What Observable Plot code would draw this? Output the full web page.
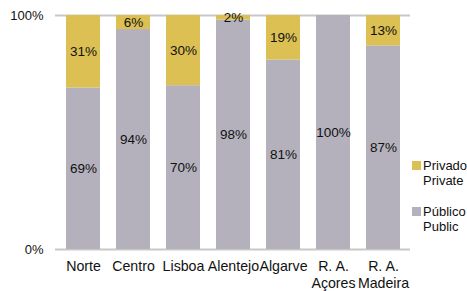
<!DOCTYPE html>
<html><head><meta charset="utf-8">
<script src="https://cdn.jsdelivr.net/npm/d3@7"></script>
<script src="https://cdn.jsdelivr.net/npm/@observablehq/plot@0.6"></script>
<style>
body{margin:0;background:#fff;font-family:"Liberation Sans",Arial,sans-serif;}
#wrap{position:relative;width:467px;height:291px;}
.leg{position:absolute;left:412px;font-size:13px;line-height:15px;color:#111;}
.sw{position:absolute;left:0;width:9px;height:9px;}
.lt{position:absolute;left:11px;white-space:nowrap;}
</style></head>
<body><div id="wrap"></div>
<script>
const categories = ["Norte","Centro","Lisboa","Alentejo","Algarve","R. A.\nAçores","R. A.\nMadeira"];
const publico = [69,94,70,98,81,100,87];
const privado = [31,6,30,2,19,0,13];
const series = ["Privado","Público"];
const seriesEn = ["Private","Public"];
const colors = ["#dcc054","#b4b1bc"];

const data = categories.flatMap((c,i)=>[
  {region:c,type:"Público",v:publico[i]},
  {region:c,type:"Privado",v:privado[i]}
]);

const chart = Plot.plot({
  width:467, height:291,
  marginLeft:55, marginRight:57, marginTop:15, marginBottom:42,
  style:{fontFamily:"'Liberation Sans', Arial, sans-serif", fontSize:"13px", color:"#111", background:"#fff"},
  x:{domain:categories, paddingInner:0.33, paddingOuter:0.168},
  y:{domain:[0,100]},
  color:{domain:series, range:colors},
  marks:[
    Plot.ruleY([0,100],{stroke:"#c8c8c8",strokeWidth:2}),
    Plot.axisX({label:null, tickSize:0, tickPadding:9, fontSize:14.2, lineHeight:1.2, fill:"#111"}),
    Plot.axisY({ticks:[0,100], tickFormat:d=>d+"%", label:null, tickSize:0, tickPadding:12, fontSize:13, fill:"#111"}),
    Plot.barY(data, Plot.stackY({x:"region", y:"v", fill:"type", order:["Público","Privado"]})),
    Plot.text(data.filter(d=>d.v>0), Plot.stackY({x:"region", y:"v", z:"type", order:["Público","Privado"], text:d=>d.v+"%", fontSize:13.5, fill:"#111"}))
  ]
});
const wrap = document.getElementById("wrap");
wrap.appendChild(chart);
const tops = [158, 204];
series.forEach((s,i)=>{
  const d = document.createElement("div");
  d.className="leg"; d.style.top=tops[i]+"px";
  d.innerHTML = `<div class="sw" style="top:3px;background:${colors[i]}"></div><div class="lt">${s}<br>${seriesEn[i]}</div>`;
  wrap.appendChild(d);
});
</script></body></html>
